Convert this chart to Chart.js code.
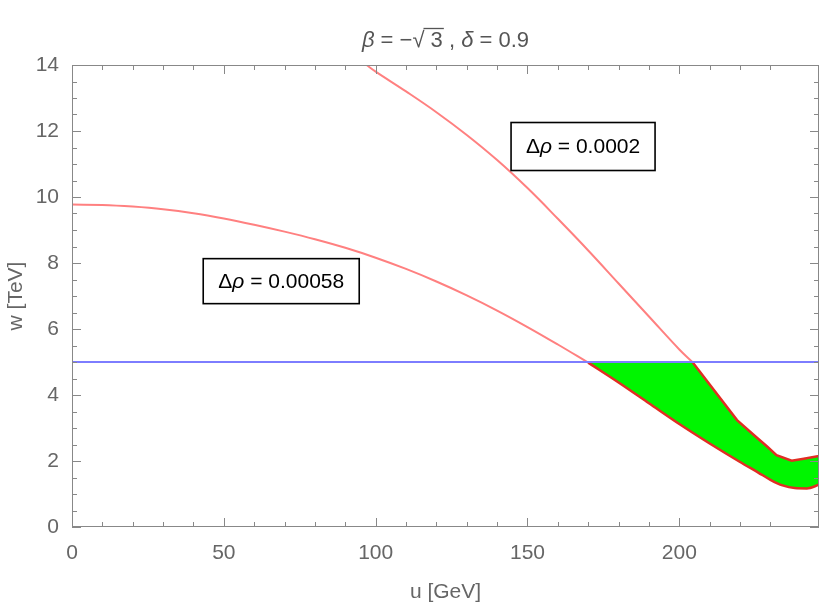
<!DOCTYPE html>
<html>
<head>
<meta charset="utf-8">
<script src="https://cdn.jsdelivr.net/npm/chart.js@4.4.0/dist/chart.umd.min.js"></script>
<style>
  html, body { margin: 0; padding: 0; background: #fff; }
</style>
</head>
<body>
<canvas id="chart" width="825" height="609"></canvas>
<script>
// Δρ = 0.00058 contour (pink part, above w = 5)
const u1 = [0, 10, 20, 30, 40, 50, 60, 70, 80, 90, 100, 110, 120, 130, 140, 150, 160, 170];
const w1 = [9.77, 9.76, 9.71, 9.63, 9.51, 9.35, 9.16, 8.95, 8.72, 8.46, 8.16, 7.82, 7.44, 7.02, 6.56, 6.06, 5.53, 4.98];

// Δρ = 0.0002 contour (pink part, above w = 5)
const u2 = [97, 100, 110, 120, 130, 140, 150, 160, 170, 180, 190, 200, 204.3];
const w2 = [14.0, 13.8, 13.2, 12.57, 11.88, 11.12, 10.27, 9.34, 8.38, 7.38, 6.38, 5.38, 5.0];

// allowed region: lower and upper boundary
const uLow = [170, 180, 190, 200, 210, 220, 226, 230, 234, 238, 242, 246];
const wLow = [4.98, 4.38, 3.75, 3.12, 2.53, 1.97, 1.65, 1.43, 1.26, 1.18, 1.17, 1.28];
const uUp = [170, 204.3];
const wUp = [5, 5];
const uEdge = [204.3, 210, 219, 225, 229, 232, 237, 241, 246];
const wEdge = [5, 4.32, 3.24, 2.75, 2.43, 2.18, 2.01, 2.07, 2.15];

// w = 5 TeV line
const wCut = 5;
const uRange = [0, 246];

const noteValues = ['0.00058', '0.0002'];

function pts(us, ws) {
  return us.map((u, i) => ({ x: u, y: ws[i] }));
}

const pink = 'rgb(255,128,128)';
const red = 'rgb(225,45,35)';
const blue = 'rgb(125,125,255)';
const grey = '#666';
const tickFont = { family: 'Liberation Sans, Arial, sans-serif', size: 21 };

const framePlugin = {
  id: 'frame',
  afterDraw(chart, args, opts) {
    const { ctx, chartArea: a, scales: { x, y } } = chart;
    ctx.save();
    ctx.strokeStyle = '#888';
    ctx.lineWidth = 1;
    ctx.strokeRect(a.left + 0.5, a.top + 0.5, a.right - a.left - 1, a.bottom - a.top - 1);
    ctx.beginPath();
    x.ticks.forEach(t => {
      if (t.value % 10 !== 0) return;
      const len = t.value % 50 === 0 ? 9 : 5;
      const px = Math.round(x.getPixelForValue(t.value)) + 0.5;
      ctx.moveTo(px, a.bottom); ctx.lineTo(px, a.bottom - len);
      ctx.moveTo(px, a.top); ctx.lineTo(px, a.top + len);
    });
    y.ticks.forEach(t => {
      const len = t.value % 2 === 0 ? 9 : 5;
      const py = Math.round(y.getPixelForValue(t.value)) + 0.5;
      ctx.moveTo(a.left, py); ctx.lineTo(a.left + len, py);
      ctx.moveTo(a.right, py); ctx.lineTo(a.right - len, py);
    });
    ctx.stroke();

    // title
    const parts = [['β', 'italic '], [' = −', ''], ['√', ''], [' 3', ''], [' , ', ''], ['δ', 'italic '], [' = 0.9', '']];
    const fam = '22px Liberation Sans, sans-serif';
    let total = 0;
    parts.forEach(p => { ctx.font = p[1] + fam; total += ctx.measureText(p[0]).width; });
    let cx = (a.left + a.right) / 2 - total / 2;
    const by = 47;
    ctx.fillStyle = '#555';
    ctx.textBaseline = 'alphabetic';
    ctx.textAlign = 'left';
    parts.forEach(p => {
      ctx.font = p[1] + fam;
      const w = ctx.measureText(p[0]).width;
      ctx.fillText(p[0], cx, by);
      if (p[0] === ' 3') {
        ctx.strokeStyle = '#555';
        ctx.lineWidth = 1.3;
        ctx.beginPath();
        ctx.moveTo(cx - 1, by - 18.5); ctx.lineTo(cx + w + 1, by - 18.5);
        ctx.stroke();
      }
      cx += w;
    });

    // boxed labels
    opts.notes.forEach((n, i) => {
      const cxp = x.getPixelForValue(n.u);
      const cyp = y.getPixelForValue(n.w);
      const size = 21;
      const segs = [['Δ', ''], ['ρ', 'italic '], [' = ' + noteValues[i], '']];
      let tw = 0;
      segs.forEach(s => { ctx.font = s[1] + size + 'px Liberation Sans, sans-serif'; tw += ctx.measureText(s[0]).width; });
      const bw = n.bw, bh = n.bh;
      ctx.fillStyle = '#fff';
      ctx.fillRect(cxp - bw / 2, cyp - bh / 2, bw, bh);
      ctx.strokeStyle = '#000';
      ctx.lineWidth = 1.6;
      ctx.strokeRect(cxp - bw / 2, cyp - bh / 2, bw, bh);
      ctx.fillStyle = '#000';
      ctx.textBaseline = 'middle';
      let sx = cxp - tw / 2;
      segs.forEach(s => {
        ctx.font = s[1] + size + 'px Liberation Sans, sans-serif';
        ctx.fillText(s[0], sx, cyp + 1);
        sx += ctx.measureText(s[0]).width;
      });
    });
    ctx.restore();
  }
};

new Chart(document.getElementById('chart'), {
  type: 'line',
  data: {
    datasets: [
      {
        data: pts(uRange, [wCut, wCut]),
        borderColor: blue, borderWidth: 2, fill: false, order: -2
      },
      {
        data: pts(u1, w1),
        borderColor: pink, borderWidth: 2, fill: false, tension: 0.4
      },
      {
        data: pts(u2, w2),
        borderColor: pink, borderWidth: 2, fill: false, tension: 0.4
      },
      {
        data: pts(uLow, wLow),
        borderColor: red, borderWidth: 2.5, fill: false, cubicInterpolationMode: 'monotone', order: -1
      },
      {
        data: pts(uUp.concat(uEdge.slice(1)), wUp.concat(wEdge.slice(1))),
        borderWidth: 0, borderColor: 'rgba(0,0,0,0)',
        fill: '-1', backgroundColor: 'rgb(0,245,0)'
      },
      {
        data: pts(uEdge, wEdge),
        borderColor: red, borderWidth: 2.5, fill: false, order: -1
      }
    ]
  },
  options: {
    responsive: false,
    animation: false,
    layout: { padding: { top: 65, right: 3, left: 0, bottom: 0 } },
    elements: { point: { radius: 0 } },
    plugins: {
      legend: { display: false },
      tooltip: { enabled: false },
      frame: {
        notes: [
          { u: 68.9, w: 7.45, bw: 156, bh: 45 },
          { u: 168.3, w: 11.53, bw: 144, bh: 48 }
        ]
      }
    },
    scales: {
      x: {
        type: 'linear', min: 0, max: 246,
        grid: { display: false }, border: { display: false },
        ticks: {
          stepSize: 10, autoSkip: false, maxRotation: 0, padding: 6, color: grey, font: tickFont,
          callback: v => (v % 50 === 0 ? v : '')
        },
        title: { display: true, text: 'u [GeV]', color: grey, font: tickFont, padding: { top: 0, bottom: 4 } },
        afterFit: s => { s.height = 82; }
      },
      y: {
        min: 0, max: 14,
        grid: { display: false }, border: { display: false },
        ticks: {
          stepSize: 0.5, autoSkip: false, padding: 5, color: grey, font: tickFont,
          callback: v => (v % 2 === 0 ? v : '')
        },
        title: { display: true, text: 'w [TeV]', color: grey, font: tickFont, padding: { top: 4, bottom: 0 } },
        afterFit: s => { s.width = 72; }
      }
    }
  },
  plugins: [framePlugin]
});
</script>
</body>
</html>
